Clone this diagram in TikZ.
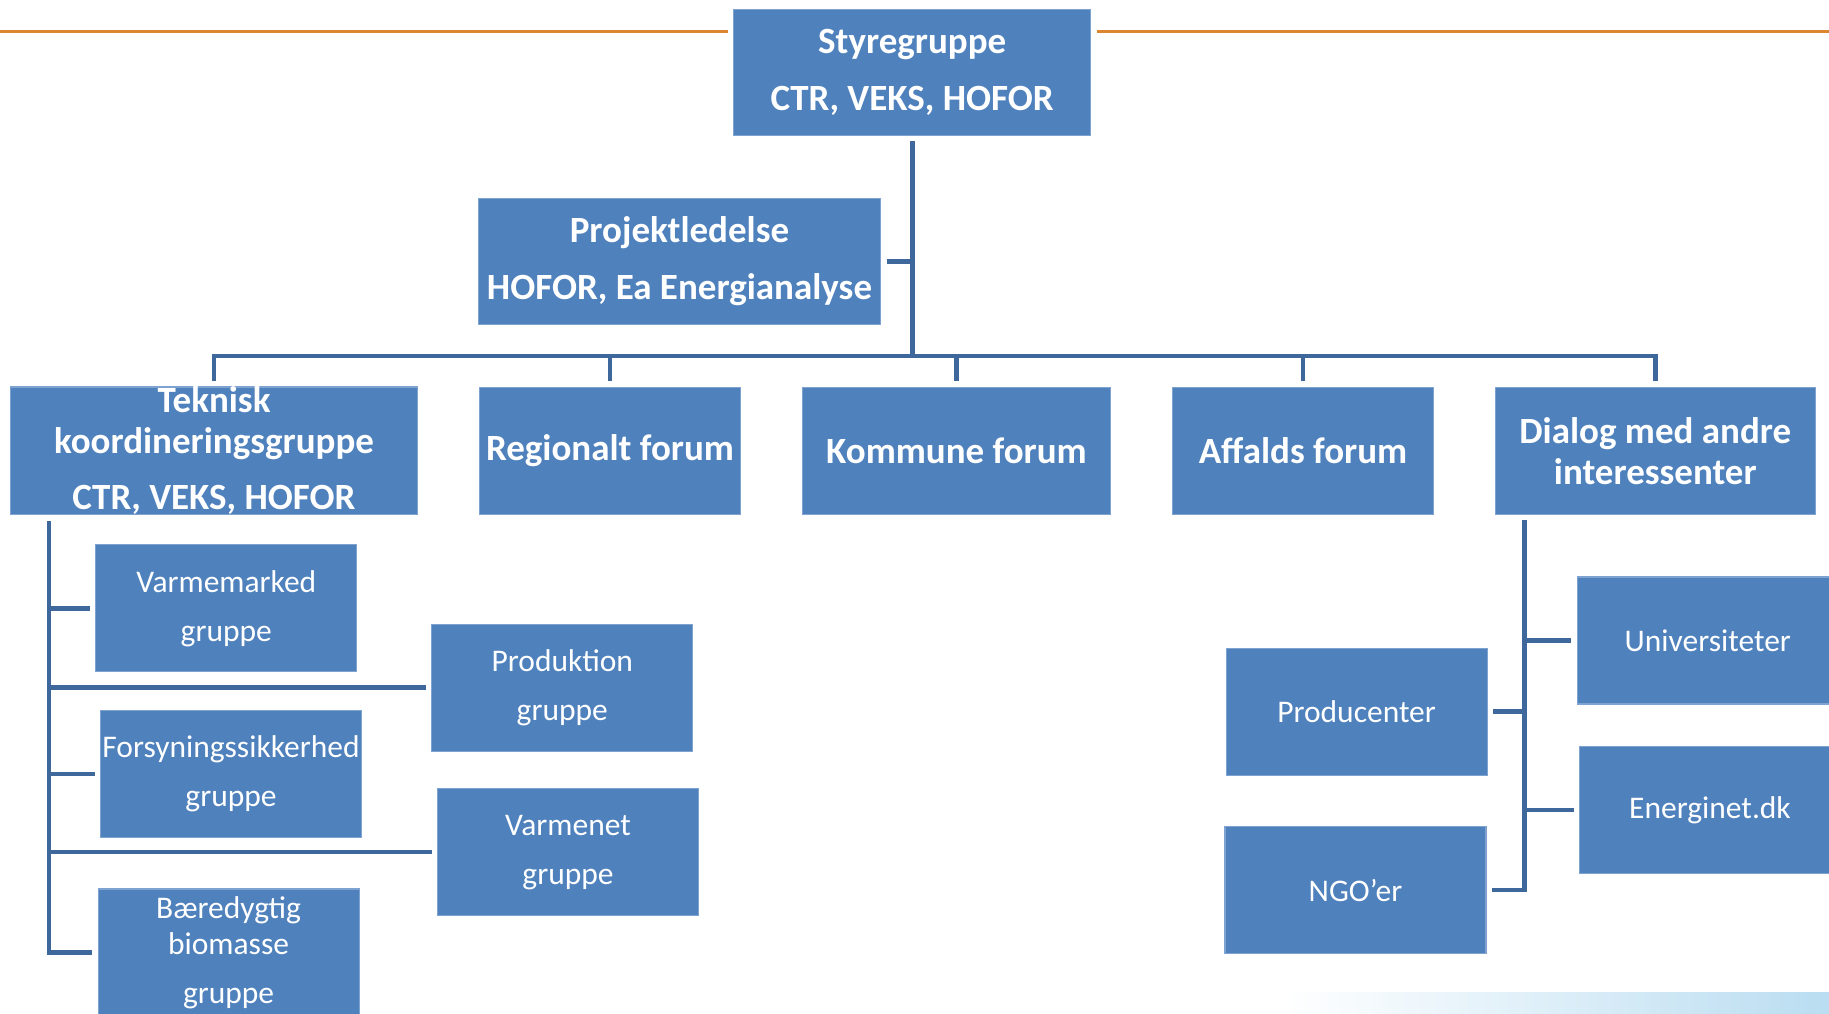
\documentclass[tikz,border=0pt]{standalone}
\usepackage{fontspec}
\setmainfont{Carlito}
\usepackage{tikz}
\usetikzlibrary{positioning}

\definecolor{boxblue}{HTML}{4F81BD}
\definecolor{boxedge}{HTML}{7FA3D0}
\definecolor{linkblue}{RGB}{62,104,156}
\definecolor{ruleorange}{HTML}{DC8730}
\definecolor{stripblue}{HTML}{BADDF1}

\tikzset{
    unit/.style={rectangle, fill=boxblue, draw=boxedge, line width=1.2pt, text=white,
        align=center, inner sep=0pt, outer sep=6pt, minimum height=127pt},
    lead/.style={unit, font=\bfseries\fontsize{37}{41}\selectfont},
    group/.style={unit, font=\fontsize{31.5}{36}\selectfont, minimum width=261pt},
    link/.style={draw=linkblue, line width=4.6pt},
    rule/.style={draw=ruleorange, line width=3.6pt}
}

\begin{document}
\begin{tikzpicture}[x=1pt, y=-1pt]
        \useasboundingbox (0,0) rectangle (1829,1013);
        \clip (0,0) rectangle (1829,1013);
        \shade[left color=white, right color=stripblue] (1283,992) rectangle (1829,1013);

        \node[lead, minimum width=357pt, minimum height=126pt] (styre) at (912.2,72.3)
            {Styregruppe\\[16pt]CTR, VEKS, HOFOR};
        \node[lead, minimum width=402pt, minimum height=126pt] (proj) at (679.5,261.3)
            {Projektledelse\\[16pt]HOFOR, Ea Energianalyse};

        \node[lead, minimum width=407pt] (tek) at (214,450.9)
            {Teknisk\\koordineringsgruppe\\[15pt]CTR, VEKS, HOFOR};
        \node[lead, minimum width=261pt] (reg) at (610,450.9) {Regionalt forum};
        \node[lead, minimum width=308pt] (kom) at (956.5,450.9) {Kommune forum};
        \node[lead, minimum width=261pt] (aff) at (1303,450.9) {Affalds forum};
        \node[lead, minimum width=320pt] (dia) at (1655.3,450.9) {Dialog med andre\\interessenter};

        \node[group] (varm) at (226.3,608.3) {Varmemarked\\[13pt]gruppe};
        \node[group] (prod) at (562.3,687.6) {Produktion\\[13pt]gruppe};
        \node[group] (fors) at (231,774) {Forsyningssikkerhed\\[13pt]gruppe};
        \node[group] (vnet) at (568,852.1) {Varmenet\\[13pt]gruppe};
        \node[group] (baer) at (228.6,952.4) {Bæredygtig\\biomasse\\[13pt]gruppe};

        \node[group] (univ) at (1707.8,640.4) {Universiteter};
        \node[group] (pcent) at (1356.6,711.6) {Producenter};
        \node[group] (enet) at (1710,810.1) {Energinet.dk};
        \node[group] (ngo) at (1355.5,890) {NGO’er};

        \coordinate (ruleL) at (0,31.5);
        \coordinate (ruleR) at (1829,31.5);
        \draw[rule] (ruleL) -- (styre.west |- ruleL);
        \draw[rule] (styre.east |- ruleR) -- (ruleR);

        \coordinate (bus) at (912.2,355.8);
        \draw[link] (styre.south) -- (bus);
        \draw[link] (proj.east) -- (proj.east -| bus);
        \draw[link] (tek.north) -- (tek.north |- bus) -- (dia.north |- bus) -- (dia.north);
        \foreach \n in {reg,kom,aff}
            \draw[link] (\n.north |- bus) -- (\n.north);

        \coordinate (lsp) at (49,0);
        \draw[link] (lsp |- tek.south) -- (lsp |- baer.west) -- (baer.west);
        \foreach \n in {varm,prod,fors,vnet}
            \draw[link] (lsp |- \n.west) -- (\n.west);

        \coordinate (rsp) at (1524.6,0);
        \draw[link] (rsp |- dia.south) -- (rsp |- ngo.east) -- (ngo.east);
        \draw[link] (rsp |- pcent.east) -- (pcent.east);
        \foreach \n in {univ,enet}
            \draw[link] (rsp |- \n.west) -- (\n.west);
\end{tikzpicture}
\end{document}
